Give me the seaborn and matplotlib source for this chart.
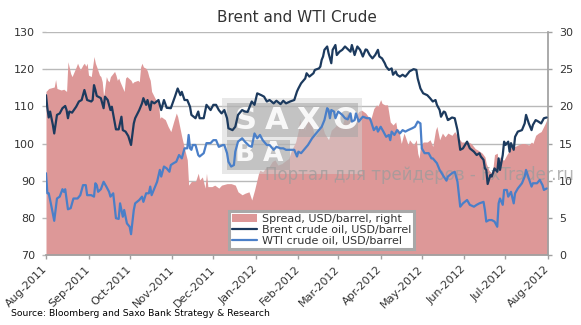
import numpy as np
import pandas as pd
import matplotlib
matplotlib.use("Agg")
import matplotlib.pyplot as plt
from matplotlib.patches import Rectangle, Patch
from matplotlib.lines import Line2D
import seaborn as sns

# ---------------- data ----------------
start_date = "2011-08-01"

brent_days = [0, 1, 2, 3, 5, 6, 8, 10, 12, 14, 15, 16, 17, 19, 22, 24, 26, 28, 29, 30,
              33, 34, 35, 36, 37, 40, 42, 43, 45, 47, 48, 51, 53, 55, 56, 58, 60, 62, 64, 65,
              68, 70, 71, 73, 74, 76, 77, 79, 82, 84, 86, 88, 91, 94, 96, 98, 99, 101, 103, 105,
              106, 109, 111, 112, 115, 117, 120, 122, 124, 126, 128, 130, 132, 133, 136, 138, 140, 143, 145, 147,
              150, 152, 154, 157, 159, 161, 163, 166, 168, 171, 173, 175, 178, 181, 183, 184, 186, 189, 190, 192,
              195, 196, 199, 200, 201, 202, 203, 205, 206, 208, 209, 211, 212, 214, 216, 218, 220, 222, 223, 225,
              227, 229, 231, 233, 234, 236, 238, 240, 242, 243, 245, 247, 248, 250, 252, 253, 255, 256, 258, 260,
              262, 264, 265, 268, 270, 271, 273, 275, 278, 280, 282, 284, 285, 287, 288, 290, 291, 293, 294, 296,
              298, 300, 302, 304, 307, 309, 312, 314, 316, 317, 319, 320, 321, 322, 324, 325, 327, 329, 330, 331,
              333, 334, 335, 337, 338, 339, 341, 342, 344, 347, 349, 350, 352, 354, 355, 357, 359, 361, 363, 365]
brent_usd = [113.0, 109.5, 107.0, 108.6, 105.0, 102.7, 107.7, 108.1, 109.5, 110.1, 109.0, 106.8, 108.6, 108.3, 109.9, 111.3, 111.7, 114.4, 113.0, 111.7,
             111.3, 111.7, 115.7, 114.4, 112.8, 112.2, 109.5, 112.6, 111.7, 109.0, 109.9, 103.8, 103.8, 107.2, 103.6, 103.2, 102.0, 99.6, 105.4, 106.8,
             109.0, 110.8, 112.2, 110.4, 111.7, 109.0, 111.3, 110.8, 111.7, 109.0, 111.7, 109.6, 109.5, 112.6, 114.8, 113.0, 113.9, 111.7, 111.7, 109.9,
             107.7, 106.8, 108.6, 106.8, 106.8, 110.4, 109.0, 110.4, 110.4, 109.0, 108.1, 109.0, 106.8, 104.1, 103.6, 104.5, 107.7, 109.0, 108.6, 108.5,
             111.3, 110.4, 113.5, 113.0, 112.6, 111.3, 111.7, 110.8, 111.5, 110.6, 111.5, 110.8, 111.3, 111.7, 114.0, 114.8, 116.2, 117.5, 118.9, 118.0,
             118.9, 119.8, 120.2, 120.7, 122.5, 123.4, 125.2, 126.1, 124.3, 121.6, 125.2, 126.5, 123.8, 124.7, 125.2, 126.1, 125.4, 124.7, 126.5, 123.8,
             126.1, 125.2, 123.4, 125.3, 125.2, 123.8, 122.9, 123.8, 125.2, 123.4, 122.9, 121.6, 120.7, 119.8, 120.2, 118.5, 119.4, 118.5, 118.0, 118.5,
             118.0, 118.9, 119.4, 120.0, 119.8, 117.5, 114.8, 113.5, 113.0, 112.2, 111.3, 111.7, 110.4, 109.0, 107.2, 108.6, 108.4, 106.3, 106.5, 107.0,
             106.8, 103.6, 98.3, 98.7, 100.5, 98.7, 97.8, 96.9, 97.4, 96.5, 95.6, 93.3, 92.9, 89.1, 91.5, 91.1, 93.3, 92.4, 96.0, 92.9,
             96.9, 100.5, 99.6, 100.5, 97.8, 100.1, 98.3, 101.8, 103.2, 103.6, 105.4, 107.7, 105.4, 103.6, 105.0, 106.3, 105.9, 105.4, 106.8, 107.0]

wti_days = [0, 1, 2, 4, 6, 8, 10, 12, 13, 14, 16, 18, 20, 23, 25, 27, 29, 30, 33, 35,
            36, 37, 38, 40, 42, 44, 46, 47, 49, 51, 53, 54, 56, 57, 59, 61, 62, 64, 65, 68,
            70, 71, 73, 75, 76, 77, 80, 81, 83, 84, 86, 88, 90, 91, 93, 95, 97, 99, 101, 103,
            104, 105, 106, 107, 109, 111, 112, 115, 117, 120, 122, 124, 126, 129, 130, 132, 133, 135, 137, 138,
            140, 143, 145, 148, 150, 152, 154, 156, 158, 161, 163, 166, 168, 171, 173, 175, 178, 181, 183, 184,
            186, 189, 191, 194, 196, 199, 201, 203, 205, 206, 207, 208, 210, 211, 213, 216, 218, 220, 222, 223,
            225, 226, 228, 230, 231, 234, 236, 237, 239, 241, 242, 244, 246, 248, 250, 251, 252, 254, 256, 258,
            260, 262, 264, 267, 269, 271, 273, 274, 276, 279, 281, 282, 285, 287, 290, 292, 293, 296, 298, 300,
            302, 304, 307, 309, 312, 314, 316, 319, 320, 321, 323, 325, 327, 329, 330, 331, 333, 334, 336, 337,
            339, 341, 342, 344, 347, 349, 350, 352, 354, 355, 358, 360, 362, 363, 365]
wti_usd = [92.0, 86.6, 86.6, 83.0, 79.2, 85.2, 85.7, 87.7, 87.0, 87.7, 82.3, 82.6, 85.2, 85.2, 86.1, 88.8, 88.8, 86.1, 86.1, 85.7,
           89.3, 88.8, 87.0, 87.7, 89.7, 88.4, 87.0, 85.7, 86.6, 79.9, 79.7, 83.9, 80.3, 82.1, 78.5, 77.6, 75.6, 82.1, 83.9, 84.8,
           85.7, 84.3, 86.6, 86.6, 88.4, 86.1, 88.8, 89.7, 92.9, 91.1, 93.8, 93.3, 92.4, 94.2, 94.7, 95.1, 96.9, 96.0, 98.7, 98.7,
           102.3, 98.7, 98.3, 99.6, 99.6, 96.9, 96.5, 97.4, 100.1, 100.1, 100.9, 100.9, 99.1, 99.6, 99.6, 97.4, 95.1, 93.8, 94.2, 97.8,
           100.5, 101.4, 100.5, 99.4, 99.1, 102.7, 101.4, 102.3, 100.9, 99.6, 99.6, 98.3, 99.1, 98.7, 98.7, 98.3, 98.3, 98.3, 96.5, 97.8,
           97.4, 98.7, 99.6, 101.4, 102.3, 103.6, 104.5, 106.3, 109.5, 109.0, 106.8, 109.0, 108.6, 106.8, 108.6, 107.7, 106.8, 106.5, 108.1, 105.9,
           106.3, 108.1, 105.9, 106.8, 107.2, 106.8, 106.8, 105.9, 103.6, 104.5, 103.2, 104.5, 103.2, 101.8, 102.3, 100.9, 103.2, 102.3, 103.6, 102.7,
           103.6, 103.2, 103.6, 104.1, 104.5, 105.9, 105.4, 98.7, 97.4, 97.4, 96.0, 96.0, 94.7, 92.9, 91.1, 90.0, 91.1, 92.0, 92.4, 89.7,
           83.0, 83.9, 84.8, 83.5, 83.0, 83.5, 83.9, 84.3, 82.1, 79.0, 79.4, 79.4, 79.0, 77.6, 83.9, 85.2, 83.5, 87.5, 87.5, 85.7,
           87.0, 83.9, 86.6, 87.9, 89.3, 91.1, 92.9, 90.6, 88.4, 89.3, 89.3, 90.2, 88.8, 87.5, 87.9]

spread_days = [0, 2, 6, 7, 8, 11, 13, 15, 16, 18, 19, 22, 23, 25, 27, 28, 29, 30, 31, 33,
               35, 36, 37, 39, 40, 41, 42, 44, 45, 46, 47, 50, 51, 52, 53, 54, 57, 58, 59, 62,
               63, 64, 67, 68, 69, 70, 71, 73, 74, 75, 76, 77, 80, 82, 83, 84, 87, 89, 91, 93,
               95, 96, 99, 101, 103, 104, 106, 109, 111, 112, 114, 116, 117, 118, 121, 123, 126, 128, 132, 135,
               138, 140, 143, 145, 148, 150, 152, 155, 156, 158, 161, 162, 165, 167, 169, 172, 174, 177, 179, 182,
               184, 185, 186, 188, 189, 190, 191, 194, 196, 199, 201, 203, 206, 208, 211, 213, 216, 218, 220, 223,
               225, 228, 230, 233, 235, 237, 239, 241, 242, 244, 245, 247, 249, 251, 253, 255, 256, 257, 259, 261,
               262, 264, 265, 268, 270, 271, 272, 273, 275, 278, 280, 282, 284, 285, 287, 289, 291, 293, 296, 298,
               301, 303, 306, 308, 310, 313, 315, 318, 320, 321, 323, 324, 325, 326, 327, 329, 330, 331, 333, 334,
               336, 338, 340, 342, 344, 347, 349, 352, 354, 355, 357, 359, 361, 364, 366]
spread_usd = [22.0, 22.4, 22.6, 23.6, 22.4, 22.2, 22.3, 22.0, 26.0, 24.4, 24.0, 25.3, 25.8, 24.9, 25.6, 25.8, 25.4, 25.8, 24.2, 24.0,
              26.7, 25.8, 25.3, 24.2, 24.0, 23.3, 21.3, 24.0, 23.5, 23.3, 24.0, 24.7, 24.2, 23.5, 23.8, 23.3, 22.0, 23.8, 24.0, 23.5,
              23.1, 23.3, 23.5, 23.3, 25.3, 25.8, 25.3, 25.1, 24.7, 24.0, 23.5, 22.0, 20.9, 20.4, 18.4, 18.6, 18.2, 17.3, 16.6, 17.9,
              19.1, 18.6, 15.9, 14.3, 12.8, 9.4, 9.9, 9.9, 11.0, 10.1, 10.5, 9.0, 11.0, 9.2, 9.2, 9.4, 9.0, 9.4, 9.6, 9.6,
              9.4, 8.5, 8.1, 8.3, 8.5, 7.4, 8.7, 11.0, 11.4, 11.2, 11.9, 11.7, 12.6, 12.8, 12.1, 12.3, 12.6, 13.0, 14.1, 15.2,
              16.8, 18.4, 16.8, 18.4, 16.8, 18.6, 18.2, 17.3, 15.9, 16.6, 17.7, 16.4, 15.5, 16.8, 17.3, 17.9, 17.5, 18.6, 19.1, 19.5,
              18.4, 19.3, 19.5, 19.1, 18.6, 18.4, 19.7, 20.2, 20.0, 20.9, 20.4, 20.2, 20.2, 17.9, 17.5, 17.9, 16.8, 17.0, 15.0, 16.4,
              15.9, 14.8, 15.5, 14.8, 15.5, 13.7, 13.0, 14.6, 15.2, 15.2, 15.5, 14.6, 16.8, 17.3, 15.5, 16.4, 15.9, 16.4, 16.1, 16.6,
              15.7, 15.2, 15.2, 15.2, 15.0, 14.3, 14.1, 13.7, 13.2, 12.3, 11.4, 11.2, 11.0, 11.9, 13.5, 13.7, 11.9, 13.2, 12.8, 12.8,
              13.5, 14.1, 14.8, 14.6, 14.8, 15.0, 15.0, 14.8, 15.2, 15.0, 16.1, 16.4, 16.6, 17.7, 18.6]

month_starts = ["2011-08-01", "2011-09-01", "2011-10-01", "2011-11-01", "2011-12-01", "2012-01-01", "2012-02-01",
                "2012-03-01", "2012-04-01", "2012-05-01", "2012-06-01", "2012-07-01", "2012-08-01"]
month_labels = ["Aug-2011", "Sep-2011", "Oct-2011", "Nov-2011", "Dec-2011", "Jan-2012", "Feb-2012",
                "Mar-2012", "Apr-2012", "May-2012", "Jun-2012", "Jul-2012", "Aug-2012"]
left_ticks = [70, 80, 90, 100, 110, 120, 130]
right_ticks = [0, 5, 10, 15, 20, 25, 30]

title_text = "Brent and WTI Crude"
legend_labels = ["Spread, USD/barrel, right", "Brent crude oil, USD/barrel", "WTI crude oil, USD/barrel"]
source_text = "Source: Bloomberg and Saxo Bank Strategy & Research"
watermark_text = "Портал для трейдеров - FxTrader.ru"
logo_row1 = "SAXO"
logo_row2 = "BA"

# ---------------- styling ----------------
SPREAD_C = "#DD9898"
BRENT_C = "#1C3A5E"
WTI_C = "#4A7FC8"
GRID_C = "#B9B9B9"
TEXT_C = "#333333"

sns.set_theme(style="white")
plt.rcParams["font.family"] = ["DejaVu Sans"]

W, H = 581, 325
fig = plt.figure(figsize=(W / 100, H / 100), dpi=100)
fig.patch.set_facecolor("white")

x0, x1, y0, y1 = 46, 548, 32, 255
ax = fig.add_axes([x0 / W, 1 - y1 / H, (x1 - x0) / W, (y1 - y0) / H])
ax2 = ax.twinx()

base = pd.Timestamp(start_date)
def to_dates(days):
    return base + pd.to_timedelta(np.asarray(days), unit="D")

brent_df = pd.DataFrame({"date": to_dates(brent_days), "usd": brent_usd})
wti_df = pd.DataFrame({"date": to_dates(wti_days), "usd": wti_usd})
spread_df = pd.DataFrame({"date": to_dates(spread_days), "usd": spread_usd})

# layer order: ax2 (grid + spread area) below, ax (lines) above
ax2.set_zorder(1)
ax.set_zorder(3)
ax.patch.set_visible(False)
ax2.patch.set_visible(True)
ax2.patch.set_facecolor("white")

ax2.fill_between(spread_df["date"], 0, spread_df["usd"], color=SPREAD_C, lw=0, zorder=2)
ax2.set_ylim(0, 30)
ax2.set_yticks(right_ticks)
ax2.yaxis.grid(True, color=GRID_C, lw=1)
ax2.set_axisbelow(True)

sns.lineplot(data=brent_df, x="date", y="usd", ax=ax, color=BRENT_C, lw=1.6, legend=False)
sns.lineplot(data=wti_df, x="date", y="usd", ax=ax, color=WTI_C, lw=1.6, legend=False)
ax.set_ylim(70, 130)
ax.set_yticks(left_ticks)
ax.set_xlim(to_dates([0])[0], pd.Timestamp(month_starts[-1]))
ax.set_xlabel("")
ax.set_ylabel("")
ax2.set_ylabel("")

ax.set_xticks(pd.to_datetime(month_starts))
ax.set_xticklabels(month_labels, rotation=45, ha="right", va="center", rotation_mode="anchor")

for s in ax.spines.values():
    s.set_visible(False)
for s in ax2.spines.values():
    s.set_visible(False)
ax2.spines["right"].set_visible(True)
ax2.spines["right"].set_color("#A0A0A0")
ax.spines["bottom"].set_visible(True)
ax.spines["bottom"].set_color("#A0A0A0")

ax.tick_params(axis="y", left=True, length=3, width=1, color=GRID_C, labelsize=8, labelcolor=TEXT_C, pad=5)
ax.tick_params(axis="x", bottom=True, length=3, width=1, color="#A0A0A0", labelsize=8, labelcolor=TEXT_C, pad=6)
ax2.tick_params(axis="y", right=True, length=3, width=1, color="#A0A0A0", labelsize=8, labelcolor=TEXT_C, pad=5)

# legend
handles = [Patch(facecolor=SPREAD_C, edgecolor="none"),
           Line2D([], [], color=BRENT_C, lw=1.6),
           Line2D([], [], color=WTI_C, lw=1.6)]
leg = ax.legend(handles, legend_labels, loc="lower left", bbox_to_anchor=(0.364, 0.027),
                frameon=True, fancybox=False, framealpha=1, edgecolor="#A8A8A8", facecolor="white",
                fontsize=8, handlelength=2.3, handleheight=0.7, borderpad=0.25, labelspacing=0.1,
                handletextpad=0.4, borderaxespad=0)
leg.get_frame().set_linewidth(2.2)
for t in leg.get_texts():
    t.set_color(TEXT_C)

# watermark logo (between area and lines)
def frect(px, py, pw, ph, **kw):
    r = Rectangle((px / W, 1 - (py + ph) / H), pw / W, ph / H, transform=fig.transFigure, **kw)
    fig.add_artist(r)
    return r

frect(222, 98, 140, 76, facecolor="#D2D2D2", edgecolor="none", alpha=0.5, zorder=2)
frect(227, 103, 131, 34, facecolor="#A6A6A6", edgecolor="none", alpha=0.55, zorder=2)
frect(227, 140, 63, 30, facecolor="#A6A6A6", edgecolor="none", alpha=0.55, zorder=2)
for ch, cx in zip(logo_row1, [246, 277, 308, 345]):
    fig.text(cx / W, 1 - 121 / H, ch, fontsize=22, color="white", ha="center", va="center",
             fontweight="bold", alpha=0.9, zorder=2.1)
for ch, cx in zip(logo_row2, [245, 273]):
    fig.text(cx / W, 1 - 154 / H, ch, fontsize=19, color="white", ha="center", va="center",
             fontweight="bold", alpha=0.9, zorder=2.1)
fig.text(265 / W, 1 - 175 / H, watermark_text, fontsize=12, color="#9C9C9C", alpha=0.75,
         ha="left", va="center", zorder=2.2)

# title and source
fig.text(297 / W, 1 - 17 / H, title_text, fontsize=11, color=TEXT_C, ha="center", va="center")
fig.text(11 / W, 1 - 313 / H, source_text, fontsize=6.7, color="black", ha="left", va="center")

fig.savefig("out.png", dpi=100, facecolor="white")
